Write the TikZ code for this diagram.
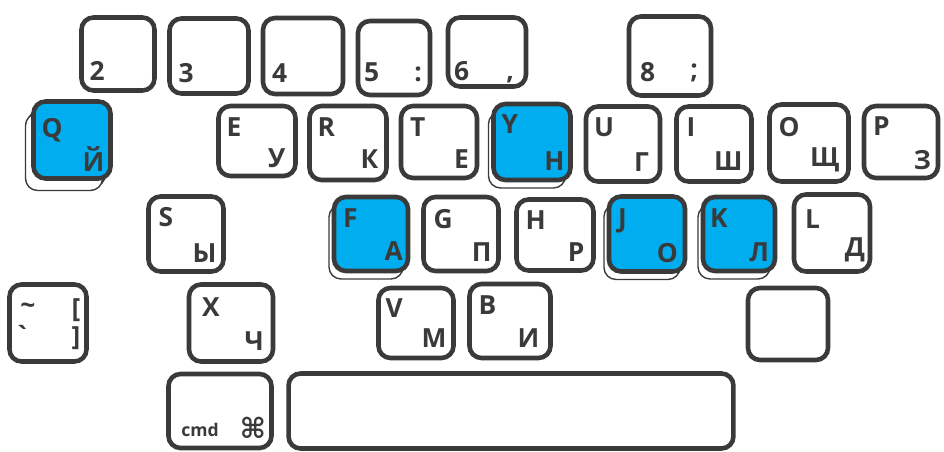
\documentclass[tikz,border=0pt]{standalone}
\usepackage{fontspec}
\setmainfont{Open Sans}
\newfontfamily\simbolos{DejaVu Sans}
\usetikzlibrary{shadows}
\definecolor{tinta}{RGB}{58,58,58}
\definecolor{azul}{RGB}{0,174,239}

\begin{document}
\begin{tikzpicture}[
    x=0.02cm,
    y=-0.02cm,
    tecla/.style={draw=tinta,line width=2.6pt,rounded corners=0.24cm,fill=white,inner sep=0pt},
    activa/.style={tecla,fill=azul,
        copy shadow={shadow xshift=-0.1cm,shadow yshift=-0.16cm,draw=tinta,line width=0.8pt,fill=white}},
    tam/.style 2 args={minimum width=#1cm,minimum height=#2cm},
    rotulo/.style={inner sep=0pt,text=tinta,font=\fontsize{15}{15}\selectfont\bfseries},
    arriba/.style={rotulo,anchor=north west},
    abajo/.style={rotulo,anchor=south east},
    cifra/.style={rotulo,anchor=south west}
]
    \useasboundingbox (0,0) rectangle (944,452);

    % fila de numeros
    \node[tecla,tam={1.46}{1.46}] (k2) at (118,54) {};
    \node[cifra] (k2-a) at ([shift={(10,-12)}]k2.south west) {2};
    \node[tecla,tam={1.58}{1.50}] (k3) at (209,56) {};
    \node[cifra] (k3-a) at ([shift={(11,-13)}]k3.south west) {3};
    \node[tecla,tam={1.60}{1.52}] (k4) at (303,56) {};
    \node[cifra] (k4-a) at ([shift={(11,-13)}]k4.south west) {4};
    \node[tecla,tam={1.44}{1.48}] (k5) at (394,58) {};
    \node[cifra] (k5-a) at ([shift={(8,-15)}]k5.south west) {5};
    \node[abajo] (k5-b) at ([shift={(-10,-15)}]k5.south east) {:};
    \node[tecla,tam={1.56}{1.38}] (k6) at (487,52) {};
    \node[cifra] (k6-a) at ([shift={(8,-8)}]k6.south west) {6};
    \node[abajo] (k6-b) at ([shift={(-14,-6)}]k6.south east) {,};
    \node[tecla,tam={1.64}{1.58}] (k8) at (670,56) {};
    \node[cifra] (k8-a) at ([shift={(13,-16)}]k8.south west) {8};
    \node[abajo] (k8-b) at ([shift={(-15,-16)}]k8.south east) {;};

    % fila superior
    \node[activa,tam={1.54}{1.54},copy shadow={shadow xshift=-0.16cm,shadow yshift=-0.24cm,draw=tinta,line width=0.8pt,fill=white}] (q) at (72,140) {};
    \node[arriba] (q-lat) at ([shift={(10,19)}]q.north west) {Q};
    \node[abajo] (q-cir) at ([shift={(-8,-9)}]q.south east) {Й};
    \node[tecla,tam={1.54}{1.40}] (e) at (257,141) {};
    \node[arriba] (e-lat) at ([shift={(10,14)}]e.north west) {E};
    \node[abajo] (e-cir) at ([shift={(-12,-10)}]e.south east) {У};
    \node[tecla,tam={1.54}{1.48}] (r) at (348,143) {};
    \node[arriba] (r-lat) at ([shift={(10,14)}]r.north west) {R};
    \node[abajo] (r-cir) at ([shift={(-10,-13)}]r.south east) {К};
    \node[tecla,tam={1.52}{1.44}] (t) at (439,142) {};
    \node[arriba] (t-lat) at ([shift={(11,14)}]t.north west) {T};
    \node[abajo] (t-cir) at ([shift={(-10,-11)}]t.south east) {Е};
    \node[activa,tam={1.54}{1.52}] (y) at (532,142) {};
    \node[arriba] (y-lat) at ([shift={(10,13)}]y.north west) {Y};
    \node[abajo] (y-cir) at ([shift={(-8,-11)}]y.south east) {Н};
    \node[tecla,tam={1.48}{1.50}] (u) at (623,144) {};
    \node[arriba] (u-lat) at ([shift={(10,13)}]u.north west) {U};
    \node[abajo] (u-cir) at ([shift={(-13,-12)}]u.south east) {Г};
    \node[tecla,tam={1.50}{1.50}] (i) at (714,144) {};
    \node[arriba] (i-lat) at ([shift={(12,13)}]i.north west) {I};
    \node[abajo] (i-cir) at ([shift={(-11,-13)}]i.south east) {Ш};
    \node[tecla,tam={1.58}{1.54}] (o) at (809,143) {};
    \node[arriba] (o-lat) at ([shift={(11,15)}]o.north west) {O};
    \node[abajo] (o-cir) at ([shift={(-11,-11)}]o.south east) {Щ};
    \node[tecla,tam={1.48}{1.44}] (p) at (901,142) {};
    \node[arriba] (p-lat) at ([shift={(11,13)}]p.north west) {P};
    \node[abajo] (p-cir) at ([shift={(-9,-10)}]p.south east) {З};

    % fila central
    \node[tecla,tam={1.50}{1.50}] (s) at (186,234) {};
    \node[arriba] (s-lat) at ([shift={(12,13)}]s.north west) {S};
    \node[abajo] (s-cir) at ([shift={(-9,-11)}]s.south east) {Ы};
    \node[activa,tam={1.48}{1.48}] (f) at (371,234) {};
    \node[arriba] (f-lat) at ([shift={(11,14)}]f.north west) {F};
    \node[abajo] (f-cir) at ([shift={(-7,-12)}]f.south east) {А};
    \node[tecla,tam={1.50}{1.48}] (g) at (461,234) {};
    \node[arriba] (g-lat) at ([shift={(12,14)}]g.north west) {G};
    \node[abajo] (g-cir) at ([shift={(-9,-11)}]g.south east) {П};
    \node[tecla,tam={1.54}{1.42}] (h) at (555,235) {};
    \node[arriba] (h-lat) at ([shift={(11,13)}]h.north west) {H};
    \node[abajo] (h-cir) at ([shift={(-11,-11)}]h.south east) {Р};
    \node[activa,tam={1.52}{1.50}] (j) at (647,234) {};
    \node[arriba] (j-lat) at ([shift={(11,14)}]j.north west) {J};
    \node[abajo] (j-cir) at ([shift={(-9,-11)}]j.south east) {О};
    \node[activa,tam={1.44}{1.48}] (k) at (739,234) {};
    \node[arriba] (k-lat) at ([shift={(9,14)}]k.north west) {K};
    \node[abajo] (k-cir) at ([shift={(-8,-11)}]k.south east) {Л};
    \node[tecla,tam={1.52}{1.54}] (l) at (832,233) {};
    \node[arriba] (l-lat) at ([shift={(13,17)}]l.north west) {L};
    \node[abajo] (l-cir) at ([shift={(-7,-11)}]l.south east) {Д};

    % fila inferior
    \node[tecla,tam={1.54}{1.54}] (tl) at (48,323) {};
    \node[rotulo] (tl-a) at ([shift={(-20,-14)}]tl.center) {\textasciitilde};
    \node[rotulo] (tl-b) at ([shift={(-20,12)}]tl.center) {\`{}};
    \node[rotulo] (tl-c) at ([shift={(28,-13)}]tl.center) {[};
    \node[rotulo] (tl-d) at ([shift={(28,15)}]tl.center) {]};
    \node[tecla,tam={1.68}{1.54}] (x) at (231,323) {};
    \node[arriba] (x-lat) at ([shift={(15,15)}]x.north west) {X};
    \node[abajo] (x-cir) at ([shift={(-11,-13)}]x.south east) {Ч};
    \node[tecla,tam={1.50}{1.40}] (v) at (416,323) {};
    \node[arriba] (v-lat) at ([shift={(9,13)}]v.north west) {V};
    \node[abajo] (v-cir) at ([shift={(-9,-12)}]v.south east) {М};
    \node[tecla,tam={1.62}{1.48}] (b) at (510,321) {};
    \node[arriba] (b-lat) at ([shift={(11,14)}]b.north west) {B};
    \node[abajo] (b-cir) at ([shift={(-13,-12)}]b.south east) {И};
    \node[tecla,tam={1.60}{1.44}] (vacia) at (788,324) {};

    % modificadores y espacio
    \node[tecla,tam={2.06}{1.48}] (cmd) at (220,411) {};
    \node[rotulo,font=\fontsize{10}{10}\selectfont\bfseries] (cmd-a) at ([shift={(-20,19)}]cmd.center) {cmd};
    \node[rotulo,font=\simbolos\fontsize{16}{16}\selectfont\bfseries] (cmd-b) at ([shift={(33,17)}]cmd.center) {⌘};
    \node[tecla,tam={8.90}{1.50}] (espacio) at (511,411) {};
\end{tikzpicture}
\end{document}
